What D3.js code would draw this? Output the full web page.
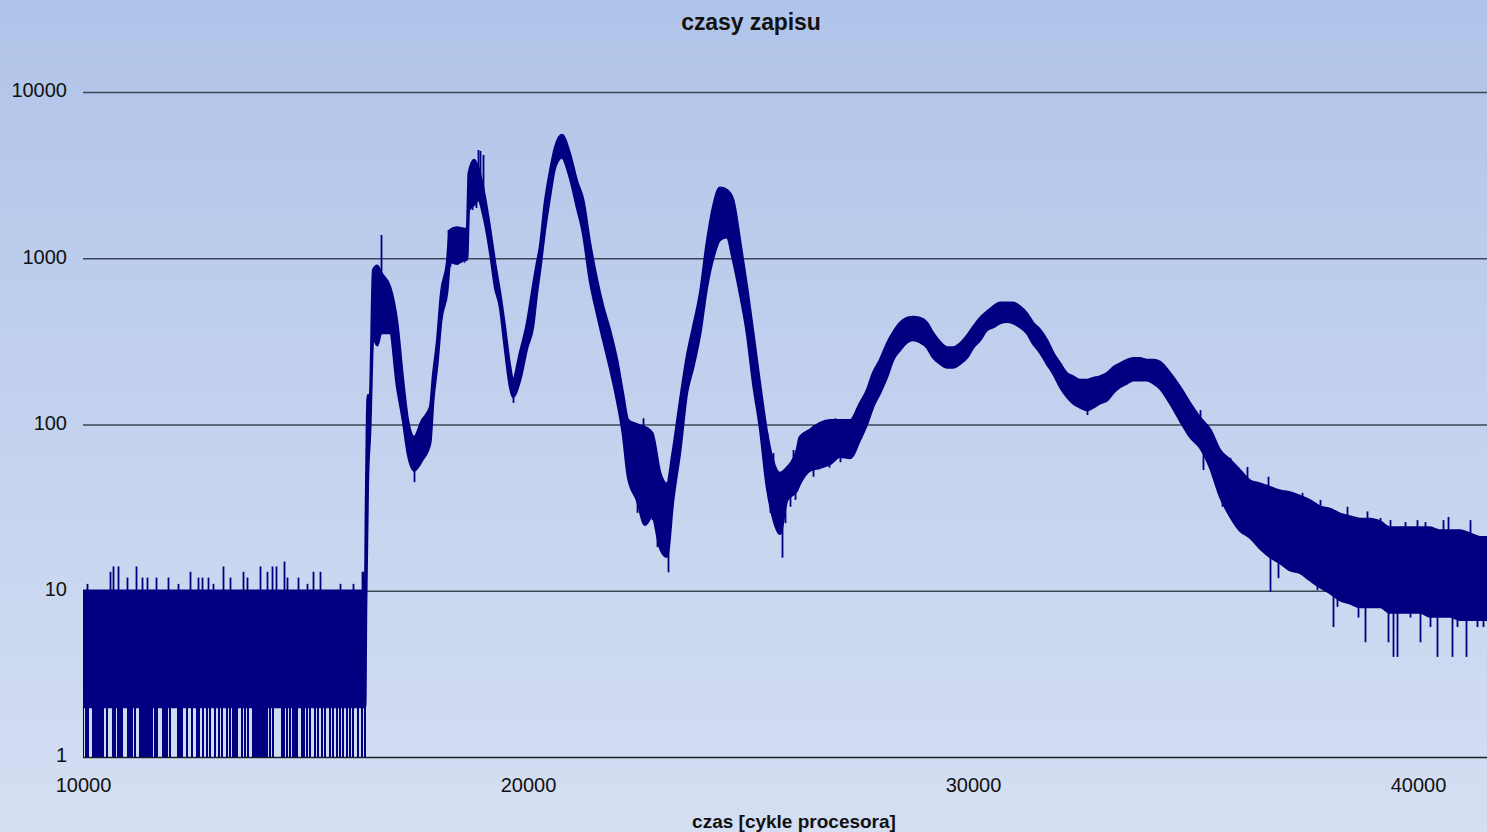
<!DOCTYPE html>
<html>
<head>
<meta charset="utf-8">
<script src="https://cdn.jsdelivr.net/npm/d3@7"></script>
<style>
  html, body { margin: 0; padding: 0; background: #c4d2ee; }
  svg { display: block; font-family: "Liberation Sans", Arial, sans-serif; }
</style>
</head>
<body>
<svg id="chart" width="1487" height="832"></svg>
<script>
// Write-time histogram: number of samples per duration (CPU cycles).
// The trace is very dense, so it is stored as an envelope (upper / lower
// count at each sampled duration) plus isolated spikes that leave the band.
const cycles = [
  10000, 16340, 16360, 16400, 16450, 16520, 16610, 16700, 16900, 17060,
  17190, 17300, 17440, 17620, 17800, 17870, 17960, 18050, 18180, 18250,
  18400, 18580, 18630, 18670, 18790, 18880, 19030, 19150, 19260, 19370,
  19480, 19600, 19660, 19820, 19980, 20110, 20200, 20270, 20380, 20490,
  20610, 20760, 20940, 21100, 21240, 21390, 21550, 21690, 21840, 22000,
  22130, 22250, 22450, 22630, 22790, 22970, 23120, 23260, 23420, 23570,
  23710, 23870, 24020, 24160, 24310, 24470, 24610, 24760, 24920, 25060,
  25210, 25370, 25500, 25660, 25820, 26040, 26110, 26340, 26560, 26790,
  27010, 27240, 27460, 27620, 27750, 27910, 28070, 28200, 28360, 28520,
  28650, 28810, 28970, 29100, 29260, 29420, 29550, 29710, 29870, 30000,
  30160, 30310, 30450, 30610, 30760, 30900, 31060, 31210, 31350, 31510,
  31660, 31800, 31960, 32110, 32250, 32400, 32560, 32700, 32850, 33010,
  33150, 33300, 33460, 33600, 33750, 33910, 34050, 34200, 34430, 34650,
  34880, 35100, 35330, 35550, 35780, 36000, 36220, 36450, 36670, 36900,
  37120, 37350, 37570, 37800, 38020, 38250, 38470, 38700, 38920, 39150,
  39370, 39600, 39820, 40050, 40270, 40490, 40720, 40940, 41170, 41390,
  41550
];
const upper = [
  10, 10, 32, 150, 150, 850, 900, 815, 671, 408,
  185, 106, 84, 106, 127, 200, 320, 620, 930, 1480,
  1530, 1500, 1500, 3260, 3900, 3500, 2330, 1480, 930, 620,
  385, 220, 185, 270, 408, 670, 930, 1170, 2150, 3260,
  4650, 5500, 4250, 2900, 2240, 1240, 740, 510, 370, 244,
  155, 106, 100, 96, 89, 51, 44, 70, 140, 255,
  385, 620, 1240, 2030, 2650, 2570, 2240, 1290, 670, 355,
  177, 89, 61, 51, 55, 70, 84, 93, 102, 106,
  106, 106, 134, 161, 203, 244, 307, 355, 408, 437,
  443, 437, 408, 355, 313, 290, 290, 307, 343, 385,
  437, 475, 510, 540, 540, 540, 510, 465, 408, 370,
  322, 270, 232, 203, 194, 185, 185, 190, 194, 203,
  220, 232, 244, 250, 250, 244, 244, 238, 203, 168,
  134, 110, 93, 70, 61, 53, 46, 44, 42, 40,
  39, 37, 35, 32, 31, 29, 28, 27, 27, 26,
  24, 24, 24, 24, 24, 23, 23, 23, 22, 21,
  21
];
const lower = [
  2, 2, 8, 45, 90, 335, 300, 355, 355, 168,
  106, 67, 53, 61, 77, 140, 230, 426, 620, 950,
  930, 980, 980, 1950, 2100, 2240, 1650, 1080, 670, 510,
  290, 167, 147, 185, 290, 385, 620, 850, 1480, 2330,
  3530, 4040, 3060, 2030, 1400, 740, 465, 322, 220, 140,
  89, 48, 35, 25, 28, 18, 16, 35, 70, 155,
  220, 355, 670, 1000, 1290, 1340, 970, 620, 355, 177,
  97, 42, 28, 22, 35, 40, 44, 53, 55, 58,
  64, 63, 81, 101, 127, 155, 194, 244, 281, 313,
  322, 313, 290, 254, 232, 220, 220, 232, 254, 290,
  322, 370, 385, 408, 415, 408, 385, 355, 307, 270,
  232, 203, 168, 147, 134, 127, 122, 127, 134, 140,
  155, 168, 177, 185, 185, 185, 177, 165, 134, 106,
  84, 73, 55, 37, 28, 23, 21, 18, 16, 14.7,
  13.3, 12.8, 11.6, 10.5, 9.7, 8.8, 8.4, 8.0, 8.0, 8.0,
  7.4, 7.4, 7.4, 7.4, 7, 7, 7, 6.7, 6.7, 6.7,
  6.7
];

// Durations where the count falls to a single sample (before the jump).
const dropCycles = [
  10000, 10067, 10112, 10225, 10270, 10315, 10337, 10382, 10427, 10449,
  10539, 10674, 10719, 10786, 10831, 10876, 11011, 11056, 11101, 11168,
  11281, 11326, 11371, 11416, 11461, 11506, 11551, 11618, 11663, 11798,
  11843, 11888, 11955, 12135, 12180, 12225, 12337, 12449, 12562, 12607,
  12696, 12786, 12854, 12966, 13056, 13123, 13236, 13303, 13371, 13416,
  13461, 13573, 13640, 13708, 13820, 13865, 13910, 13955, 14000, 14045,
  14090, 14134, 14202, 14269, 14472, 14517, 14584, 14652, 14719, 14764,
  14809, 14921, 14966, 15033, 15101, 15213, 15280, 15370, 15438, 15550,
  15618, 15708, 15775, 15843, 15932, 16000, 16067, 16180, 16269, 16337
];
const dropValue = 1;

// Isolated spikes leaving the band: duration and count.
const spikeCycles = [
  // low range, above the 2..10 band
  10090, 10607, 10674, 10786, 10989, 11191, 11326, 11438, 11640, 11910,
  12135, 12404, 12584, 12674, 12809, 12921, 13146, 13303, 13596, 13685,
  13977, 14134, 14247, 14337, 14517, 14584, 14831, 15033, 15168, 15326,
  15775, 16067, 16269, 16292,
  // first peaks
  16697, 17438, 18202, 18314, 18539, 18247, 18404, 18561,
  18696, 18763, 18876, 18921, 18988, 18741, 18831, 18966, 19033, 19662,
  // first trough
  22246, 22359, 22583, 22673, 22785, 22853, 23212, 23302,
  22291, 22359, 22449, 22516, 22673, 22785, 22898, 23010, 23145, 23257,
  // second trough and shoulder
  25369, 25504, 25819, 25954, 26066, 25437, 25594, 25706, 25774, 25886, 25999,
  26403, 26561, 26786, 26897, 27010, 27190, 26403, 26606, 26763, 27010,
  32560, 34650,
  // tail, upward
  35099, 35773, 36155, 36627, 37009, 37391, 37795, 38402, 38852, 39144,
  39368, 39705, 39975, 40155, 40559, 40672, 41167,
  // tail, downward
  35166, 35593, 35818, 36155, 36447, 36672, 36852, 37279, 37413, 37728,
  38088, 38178, 38469, 38649, 38807, 39076, 39323, 39436, 39526, 39818,
  40042, 40267, 40424, 40761, 40874, 41077, 41325, 41460
];
const spikeValues = [
  11, 13, 14, 14, 12, 14, 12, 12, 12, 12,
  11, 13, 12, 12, 12, 11, 14, 12, 13, 12,
  14, 13, 14, 14, 15, 12, 12, 11, 13, 13,
  11, 11, 13, 13,
  1380, 45, 1480, 1530, 1520, 890, 910, 940,
  3380, 3570, 4480, 4420, 4180, 1950, 2005, 2180, 1700, 135,
  106, 103.5, 109, 96.5, 89, 73, 61, 80.7,
  48.5, 42.2, 29.4, 35.2, 25.5, 26.6, 18.3, 19.3, 12.9, 38.8,
  89, 67.3, 53.2, 70.3, 77.5, 29.4, 25.5, 15.8, 25.5, 32, 35.2,
  99, 101.7, 106, 109, 106, 106, 48.5, 58.5, 55, 59.3,
  114, 102,
  122, 63, 55.5, 48.5, 39.3, 38.8, 35.2, 32, 30, 27.4,
  26.6, 25.9, 26.6, 25.9, 26.6, 27.8, 26.6,
  53.2, 32, 33.8, 21, 18.3, 9.85, 11.9, 13.3, 12.8, 10.1,
  6.05, 8.0, 9.7, 6.9, 4.9, 8.0, 4.9, 4.0, 4.0, 6.9,
  4.9, 6.05, 4.0, 4.0, 6.05, 4.0, 6.05, 6.05
];

const yTicks = [1, 10, 100, 1000, 10000];
const xTicks = [10000, 20000, 30000, 40000];
const title = "czasy zapisu";
const xTitle = "czas [cykle procesora]";

const W = 1487, H = 832;
const m = { left: 83, right: 0, top: 92, bottom: 75 };
const svg = d3.select("#chart");

// background gradient
const defs = svg.append("defs");
const grad = defs.append("linearGradient").attr("id", "bg")
  .attr("x1", 0).attr("y1", 0).attr("x2", 0).attr("y2", 1);
grad.append("stop").attr("offset", "0%").attr("stop-color", "#b0c4e9");
grad.append("stop").attr("offset", "100%").attr("stop-color", "#d5dff3");
svg.append("rect").attr("width", W).attr("height", H).attr("fill", "url(#bg)");

defs.append("clipPath").attr("id", "plot")
  .append("rect").attr("x", m.left).attr("y", m.top - 2)
  .attr("width", W - m.left - m.right).attr("height", H - m.bottom - m.top + 3);

const x = d3.scaleLinear().domain([10000, 41550]).range([m.left, W - m.right]);
const y = d3.scaleLog().domain([1, 10000]).range([H - m.bottom, m.top]);

// horizontal grid + y labels
const yAxis = svg.append("g").attr("transform", `translate(${m.left},0)`)
  .call(d3.axisLeft(y).tickValues(yTicks).tickFormat(d3.format("d"))
    .tickSize(-(W - m.left - m.right)).tickPadding(16));
yAxis.select(".domain").remove();
yAxis.selectAll(".tick line").attr("stroke", "#3c4656").attr("stroke-width", 1.3);
yAxis.selectAll(".tick").filter(d => d === 1).select("line").attr("stroke", "#1a1f28");
yAxis.selectAll(".tick text").attr("font-size", 20).attr("fill", "#111")
  .attr("font-family", "Liberation Sans, Arial, sans-serif").attr("dy", "0.24em");

// x labels
const xAxis = svg.append("g").attr("transform", `translate(0,${H - m.bottom})`)
  .call(d3.axisBottom(x).tickValues(xTicks).tickFormat(d3.format("d"))
    .tickSize(0).tickPadding(21));
xAxis.select(".domain").remove();
xAxis.selectAll(".tick text").attr("font-size", 20).attr("fill", "#111")
  .attr("font-family", "Liberation Sans, Arial, sans-serif");

// data
const band = cycles.map((c, i) => ({ c, hi: upper[i], lo: lower[i] }));
const ink = "#000080";
const g = svg.append("g").attr("clip-path", "url(#plot)");

g.append("path").datum(band)
  .attr("d", d3.area().curve(d3.curveMonotoneX)
    .x(d => x(d.c)).y0(d => y(d.lo)).y1(d => y(d.hi)))
  .attr("fill", ink).attr("stroke", ink).attr("stroke-width", 2.6)
  .attr("stroke-linejoin", "round");

// centre of the band (log space) at a given duration
const bis = d3.bisector(d => d).left;
function bandMid(c) {
  const i = Math.min(Math.max(bis(cycles, c), 1), cycles.length - 1);
  const a = band[i - 1], b = band[i];
  const t = (c - a.c) / (b.c - a.c || 1);
  const la = Math.log10(Math.sqrt(a.hi * a.lo)), lb = Math.log10(Math.sqrt(b.hi * b.lo));
  return Math.pow(10, la + (lb - la) * Math.max(0, Math.min(1, t)));
}

const drops = dropCycles.map(c => ({ c, v: dropValue }));
const spikes = spikeCycles.map((c, i) => ({ c, v: spikeValues[i] }));

g.selectAll("line.drop").data(drops).join("line").attr("class", "drop")
  .attr("x1", d => Math.round(x(d.c))).attr("x2", d => Math.round(x(d.c)))
  .attr("y1", d => y(d.v)).attr("y2", d => y(bandMid(d.c)))
  .attr("stroke", ink).attr("stroke-width", 2);

g.selectAll("line.spike").data(spikes).join("line").attr("class", "spike")
  .attr("x1", d => Math.round(x(d.c)) + 0.5).attr("x2", d => Math.round(x(d.c)) + 0.5)
  .attr("y1", d => y(d.v)).attr("y2", d => y(bandMid(d.c)))
  .attr("stroke", ink).attr("stroke-width", 1.8);

// titles
svg.append("text").attr("x", 751).attr("y", 30).attr("text-anchor", "middle")
  .attr("font-size", 23).attr("font-weight", "bold").attr("fill", "#111")
  .attr("letter-spacing", "-0.1").text(title);
svg.append("text").attr("x", 794).attr("y", 828).attr("text-anchor", "middle")
  .attr("font-size", 19).attr("font-weight", "bold").attr("fill", "#111")
  .text(xTitle);
</script>
</body>
</html>
